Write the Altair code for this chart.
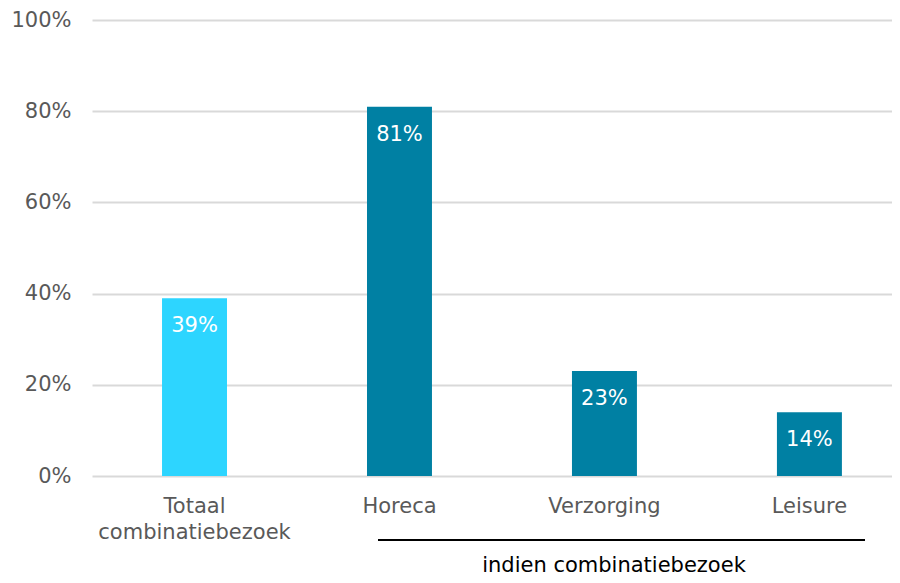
import altair as alt
import pandas as pd

categories = ["Totaal combinatiebezoek", "Horeca", "Verzorging", "Leisure"]
values = [0.39, 0.81, 0.23, 0.14]
groups = ["totaal", "indien", "indien", "indien"]
group_note = "indien combinatiebezoek"

df = pd.DataFrame({"cat": categories, "val": values, "grp": groups})
df["lab"] = [f"{round(v*100)}%" for v in values]

FONT = "DejaVu Sans"
FS = 21

xenc = alt.X(
    "cat:N",
    sort=categories,
    scale=alt.Scale(paddingInner=0.683, paddingOuter=0.293, align=0.583),
    axis=alt.Axis(
        title=None, labelAngle=0, ticks=False, domain=False,
        labelFont=FONT, labelFontSize=FS, labelColor="#595959",
        labelPadding=19, labelLineHeight=26, labelLimit=400,
        labelExpr="datum.label == 'Totaal combinatiebezoek' ? ['Totaal', 'combinatiebezoek'] : datum.label",
    ),
)

bars = alt.Chart(df).mark_bar().encode(
    x=xenc,
    y=alt.Y(
        "val:Q",
        scale=alt.Scale(domain=[0, 1]),
        axis=alt.Axis(
            title=None, format=".0%", values=[0, 0.2, 0.4, 0.6, 0.8, 1.0],
            ticks=False, domain=False, grid=True, gridColor="#d9d9d9", gridWidth=2,
            labelFont=FONT, labelFontSize=FS, labelColor="#595959", labelPadding=21,
        ),
    ),
    color=alt.Color(
        "grp:N",
        scale=alt.Scale(domain=["totaal", "indien"], range=["#2DD5FF", "#0080A3"]),
        legend=None,
    ),
)

text = alt.Chart(df).mark_text(
    baseline="top", dy=17, color="white", font=FONT, fontSize=FS
).encode(x=alt.X("cat:N", sort=categories), y="val:Q", text="lab:N")

note_df = pd.DataFrame({"note": [group_note]})
rule = alt.Chart(note_df).mark_rule(color="black", strokeWidth=2).encode(
    x=alt.value(286), x2=alt.value(773), y=alt.value(520)
)
note = alt.Chart(note_df).mark_text(
    color="black", font=FONT, fontSize=FS, baseline="middle", align="center"
).encode(x=alt.value(522), y=alt.value(546), text="note:N")

chart = (
    alt.layer(bars, text, rule, note)
    .properties(
        width=800, height=456,
        autosize=alt.AutoSizeParams(type="none"),
        padding={"left": 84, "top": 12, "right": 0, "bottom": 100},
    )
    .configure_view(stroke=None)
)

chart.save("out.html", embed_options={"renderer": "svg", "actions": False})
